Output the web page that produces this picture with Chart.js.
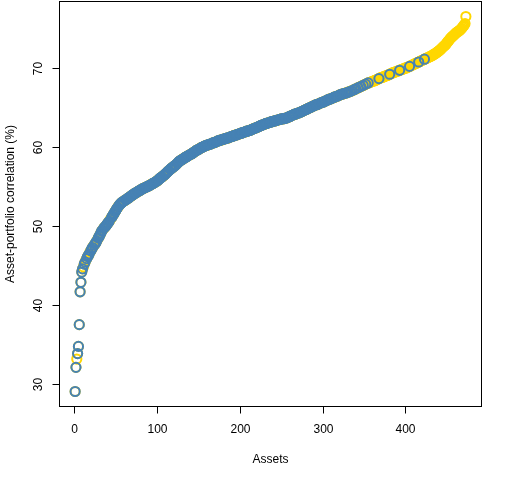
<!DOCTYPE html>
<html>
<head>
<meta charset="utf-8">
<title>Asset-portfolio correlation</title>
<script src="https://cdn.jsdelivr.net/npm/chart.js@4.4.1/dist/chart.umd.min.js"></script>
<style>
  html, body { margin: 0; padding: 0; background: #fff; }
  canvas { display: block; }
</style>
</head>
<body>
<canvas id="corr" width="512" height="480"></canvas>
<script>
// Sorted asset-portfolio correlations (%), one per asset rank
const corr = [
  29.10, 32.15, 33.20, 33.90, 34.80, 37.55, 41.70, 42.90, 44.20, // 1-9
  44.60, 44.85, 45.20, 45.45, 45.70, 45.90, 46.15, 46.30, 46.50, 46.75, 46.90, 47.10, 47.30, 47.45, 47.60, 47.75, 47.90, // 10-26
  48.10, 48.30, 48.50, 48.70, 48.90, 49.10, 49.35, 49.50, 49.65, 49.80, 49.90, 50.00, // 27-38
  50.15, 50.30, 50.45, 50.60, 50.75, 50.95, 51.10, 51.25, 51.45, 51.60, // 39-48
  51.80, 51.95, 52.15, 52.30, 52.45, 52.60, 52.75, 52.85, 52.95, 53.05, 53.10, 53.20, // 49-60
  53.25, 53.30, 53.40, 53.45, 53.55, 53.60, 53.70, 53.75, 53.85, 53.90, 54.00, 54.05, 54.15, 54.20, // 61-74
  54.25, 54.30, 54.40, 54.45, 54.50, 54.55, 54.65, 54.70, 54.75, 54.80, 54.85, 54.90, 54.95, 55.00, 55.05, 55.10, // 75-90
  55.15, 55.20, 55.30, 55.35, 55.40, 55.45, 55.50, 55.60, 55.65, 55.70, // 91-100
  55.80, 55.90, 56.00, 56.10, 56.15, 56.25, 56.30, 56.40, 56.50, 56.60, 56.70, 56.80, 56.90, 57.00, 57.10, 57.20, // 101-116
  57.30, 57.35, 57.45, 57.55, 57.60, 57.70, 57.80, 57.90, 58.00, 58.10, 58.20, 58.30, // 117-128
  58.35, 58.40, 58.50, 58.55, 58.60, 58.70, 58.75, 58.80, 58.85, 58.95, 59.00, 59.05, // 129-140
  59.10, 59.15, 59.25, 59.30, 59.40, 59.45, 59.55, 59.60, 59.65, 59.70, 59.75, 59.85, 59.90, 59.95, 60.00, 60.05, 60.10, // 141-157
  60.15, 60.20, 60.20, 60.25, 60.30, 60.35, 60.35, 60.40, 60.45, 60.50, 60.55, 60.55, 60.60, 60.65, 60.70, 60.75, // 158-173
  60.80, 60.80, 60.85, 60.90, 60.90, 60.95, 61.00, 61.00, 61.05, 61.10, 61.10, 61.15, 61.15, 61.20, 61.25, 61.30, // 174-189
  61.35, 61.35, 61.40, 61.45, 61.50, 61.50, 61.55, 61.60, 61.60, 61.65, 61.70, // 190-200
  61.75, 61.75, 61.80, 61.85, 61.85, 61.90, 61.95, 62.00, 62.00, 62.05, 62.10, 62.10, 62.15, // 201-213
  62.20, 62.25, 62.30, 62.35, 62.40, 62.40, 62.45, 62.50, 62.55, 62.60, 62.65, 62.70, // 214-225
  62.75, 62.80, 62.80, 62.85, 62.90, 62.95, 63.00, 63.00, 63.05, 63.10, 63.10, 63.15, // 226-237
  63.20, 63.20, 63.25, 63.25, 63.30, 63.35, 63.35, 63.40, 63.40, 63.45, // 238-247
  63.50, 63.50, 63.55, 63.55, 63.60, 63.60, 63.60, 63.65, 63.65, 63.70, // 248-257
  63.75, 63.80, 63.85, 63.90, 63.95, 64.00, 64.05, 64.10, // 258-265
  64.15, 64.15, 64.20, 64.25, 64.30, 64.30, 64.35, 64.40, 64.45, 64.50, // 266-275
  64.55, 64.60, 64.65, 64.70, 64.75, 64.80, 64.85, 64.90, 64.95, 65.00, 65.05, 65.10, 65.15, 65.20, // 276-289
  65.25, 65.30, 65.35, 65.35, 65.40, 65.45, 65.50, 65.55, 65.60, 65.65, 65.65, 65.70, 65.75, 65.80, 65.85, 65.90, // 290-305
  65.95, 66.00, 66.05, 66.10, 66.10, 66.15, 66.20, 66.25, 66.30, 66.35, 66.35, 66.40, 66.45, 66.50, 66.55, 66.60, // 306-321
  66.65, 66.65, 66.70, 66.75, 66.75, 66.80, 66.85, 66.85, 66.90, 66.95, 67.00, 67.00, 67.05, 67.10, 67.15, 67.20, // 322-337
  67.25, 67.30, 67.35, 67.40, 67.45, 67.50, 67.55, 67.60, 67.65, 67.70, 67.75, 67.80, 67.85, 67.90, 67.95, 68.00, // 338-353
  68.05, 68.10, 68.15, 68.15, 68.20, 68.25, 68.30, 68.35, 68.35, 68.40, 68.45, 68.50, 68.55, 68.60, 68.65, 68.70, // 354-369
  68.75, 68.80, 68.80, 68.85, 68.90, 68.95, 69.00, 69.00, 69.05, 69.10, 69.15, 69.20, 69.25, 69.30, 69.35, 69.40, // 370-385
  69.45, 69.45, 69.50, 69.55, 69.60, 69.60, 69.65, 69.70, 69.75, 69.80, 69.80, 69.85, 69.90, 69.95, 70.00, 70.00, 70.05, // 386-402
  70.10, 70.15, 70.20, 70.25, 70.30, 70.35, 70.40, 70.45, 70.50, 70.55, 70.60, 70.65, 70.70, 70.75, 70.80, 70.85, // 403-418
  70.90, 70.95, 71.00, 71.05, 71.10, 71.15, 71.20, 71.25, 71.30, 71.35, 71.40, 71.45, 71.50, 71.55, 71.60, 71.70, // 419-434
  71.75, 71.80, 71.90, 71.95, 72.05, 72.10, 72.20, 72.30, // 435-442
  72.40, 72.50, 72.60, 72.70, 72.80, 72.90, 73.00, 73.15, 73.30, 73.40, 73.55, 73.70, // 443-454
  73.80, 73.90, 74.00, 74.10, 74.20, 74.30, 74.40, 74.50, // 455-462
  74.55, 74.65, 74.70, 74.80, 74.90, 75.00, 75.15, 75.30, 75.40, 75.60, 76.50 // 463-473
];

// Ranks (up to denseHeldEnd) that are NOT in the portfolio -> drawn gold only
const goldOnlyRanks = [
  3, 11, 14, 19, 23, 28, 35, 43, 44, 53, 61, 68, 76, 84, 93, 99, 107, 115,
  124, 131, 139, 145, 152, 160, 166, 171, 178, 186, 194, 199, 205, 211, 217,
  222, 229, 235, 241, 246, 252, 258, 263, 268, 272, 276, 279, 283, 287, 291,
  295, 298, 302, 305, 309, 312, 316, 319
];
const denseHeldEnd = 320;
// Held assets above denseHeldEnd get sparse
const blueTailRanks = [
  322, 324, 325, 327, 329, 331, 333, 335, 338, 340, 343, 346, 349, 352,
  355, 368, 381, 393, 405, 416, 423
];

const xTicks = [0, 100, 200, 300, 400];
const yTicks = [30, 40, 50, 60, 70];
const xTitle = "Assets";
const yTitle = "Asset-portfolio correlation (%)";

const allPoints = corr.map((v, i) => ({ x: i + 1, y: v }));
const heldPoints = allPoints.filter(
  (p) =>
    (p.x <= denseHeldEnd && !goldOnlyRanks.includes(p.x)) ||
    blueTailRanks.includes(p.x)
);

// R style default axis range: data range padded 4% each side
const n = corr.length;
const yMinData = Math.min(...corr);
const yMaxData = Math.max(...corr);
const xPad = 0.04 * (n - 1);
const yPad = 0.04 * (yMaxData - yMinData);

const FONT = '12px "Liberation Sans", Arial, sans-serif';

// Draw the base-graphics box, ticks and labels from the chart's scales
const rAxes = {
  id: "rAxes",
  afterDraw(chart) {
    const { ctx, chartArea: a } = chart;
    const xs = chart.scales.x;
    const ys = chart.scales.y;
    ctx.save();
    ctx.strokeStyle = "#000";
    ctx.lineWidth = 1;
    ctx.strokeRect(a.left, a.top, a.right - a.left, a.bottom - a.top);

    ctx.fillStyle = "#000";
    ctx.font = FONT;
    ctx.textAlign = "center";
    ctx.textBaseline = "alphabetic";

    xTicks.forEach((t) => {
      const px = Math.round(xs.getPixelForValue(t)) + 0.5;
      ctx.beginPath();
      ctx.moveTo(px, a.bottom);
      ctx.lineTo(px, a.bottom + 7);
      ctx.stroke();
      ctx.fillText(String(t), px, a.bottom + 26.5);
    });

    yTicks.forEach((t) => {
      const py = Math.round(ys.getPixelForValue(t)) + 0.5;
      ctx.beginPath();
      ctx.moveTo(a.left, py);
      ctx.lineTo(a.left - 7, py);
      ctx.stroke();
      ctx.save();
      ctx.translate(a.left - 18, py);
      ctx.rotate(-Math.PI / 2);
      ctx.fillText(String(t), 0, 0);
      ctx.restore();
    });

    ctx.fillText(xTitle, (a.left + a.right) / 2, a.bottom + 56);
    ctx.save();
    ctx.translate(a.left - 45.5, (a.top + a.bottom) / 2);
    ctx.rotate(-Math.PI / 2);
    ctx.fillText(yTitle, 0, 0);
    ctx.restore();

    ctx.restore();
  },
};

const pointStyle = {
  pointStyle: "circle",
  pointRadius: 4.6,
  pointHoverRadius: 4.6,
  pointBorderWidth: 2,
  pointBackgroundColor: "rgba(0,0,0,0)",
  showLine: false,
};

const ctx = document.getElementById("corr").getContext("2d");
new Chart(ctx, {
  type: "scatter",
  data: {
    datasets: [
      {
        label: "In portfolio",
        data: heldPoints,
        pointBorderColor: "#4682B4",
        borderColor: "#4682B4",
        order: 0,
        ...pointStyle,
      },
      {
        label: "All assets",
        data: allPoints,
        pointBorderColor: "#FFD700",
        borderColor: "#FFD700",
        order: 1,
        ...pointStyle,
      },
    ],
  },
  options: {
    responsive: false,
    animation: false,
    devicePixelRatio: 1,
    events: [],
    layout: {
      autoPadding: false,
      padding: { left: 59.5, right: 30.5, top: 1.5, bottom: 73.5 },
    },
    scales: {
      x: {
        type: "linear",
        display: false,
        min: 1 - xPad,
        max: n + xPad,
      },
      y: {
        type: "linear",
        display: false,
        min: yMinData - yPad,
        max: yMaxData + yPad,
      },
    },
    plugins: {
      legend: { display: false },
      tooltip: { enabled: false },
    },
  },
  plugins: [rAxes],
});
</script>
</body>
</html>
